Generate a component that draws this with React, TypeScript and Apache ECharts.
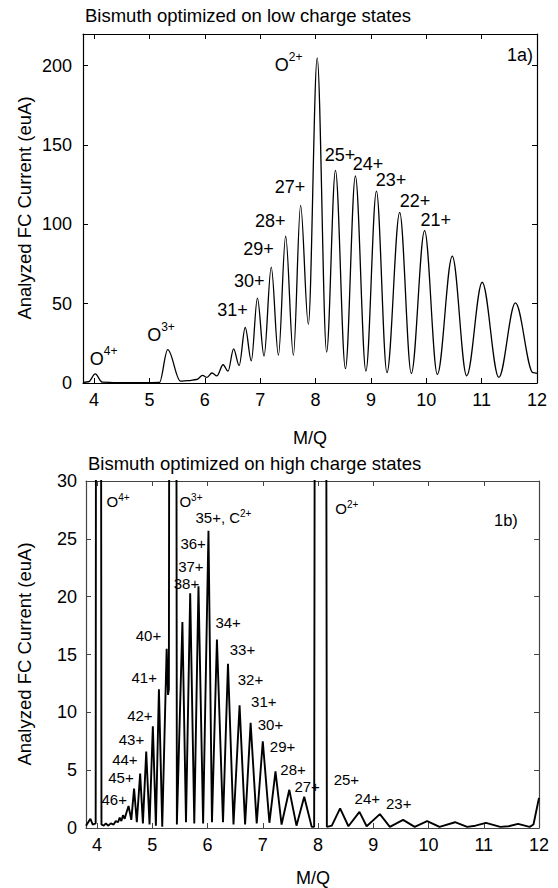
import React, { useEffect, useRef } from 'react';
import * as echarts from 'echarts';

// ---- Data ----
const xTicks = [4, 5, 6, 7, 8, 9, 10, 11, 12];
const topYTicks = [0, 50, 100, 150, 200];
const bottomYTicks = [0, 5, 10, 15, 20, 25, 30];

// 1a) low charge states: peak / valley samples (M/Q, current euA)
const topMQ = [
  3.8, 3.9, 4.02, 4.15, 4.4, 4.9, 5.18, 5.33, 5.56, 5.7, 5.85, 5.96, 6.04, 6.13, 6.22,
  6.33, 6.42, 6.52, 6.62, 6.73, 6.84, 6.95, 7.07, 7.2, 7.33, 7.46, 7.6, 7.73, 7.87,
  8.03, 8.2, 8.36, 8.54, 8.72, 8.91, 9.1, 9.29, 9.52, 9.73, 9.97, 10.2, 10.47, 10.73,
  11.01, 11.31, 11.61, 11.93, 12.0,
];
const topCurrent = [
  0.3, 0.8, 5.7, 0.5, 0.2, 0.2, 0.3, 21, 1.2, 1.5, 2.2, 4.8, 3.5, 6.3, 4.5,
  11.5, 7.5, 21.5, 11, 35, 14, 53.5, 17, 73, 17.5, 92.5, 17.5, 112, 37,
  205, 19.5, 134, 9, 130.5, 7.5, 121, 6.5, 107.5, 6, 96, 5.5, 80, 4.5,
  63.5, 3.5, 50.5, 6.5, 6,
];

// 1b) high charge states
const bottomMQ = [
  3.8, 3.84, 3.88, 3.92, 3.975, 4.02, 4.08, 4.12, 4.16, 4.2, 4.25, 4.3, 4.34, 4.38, 4.41,
  4.44, 4.47, 4.5, 4.53, 4.57, 4.62, 4.67, 4.72, 4.78, 4.83, 4.89, 4.95, 5.01, 5.065,
  5.12, 5.18, 5.26, 5.285, 5.3, 5.375, 5.445, 5.545, 5.61, 5.686, 5.76, 5.836, 5.92,
  6.017, 6.08, 6.17, 6.28, 6.37, 6.47, 6.58, 6.68, 6.78, 6.89, 7.0, 7.12, 7.23, 7.34,
  7.48, 7.61, 7.75, 7.885, 7.93, 8.04, 8.16, 8.25, 8.4, 8.55, 8.75, 8.88, 9.12, 9.3,
  9.54, 9.75, 9.975, 10.2, 10.48, 10.7, 10.85, 11.04, 11.3, 11.45, 11.62, 11.83, 11.9, 12.0,
];
const bottomCurrent = [
  0.2, 0.5, 0.8, 0.3, 0.4, 300, 0.3, 0.2, 0.4, 0.2, 0.4, 0.3, 0.6, 0.5, 0.9,
  0.6, 1.1, 0.8, 1.3, 1.9, 0.7, 3.4, 0.5, 4.7, 0.4, 6.6, 0.3, 8.8, 0.2,
  12.0, 0.1, 15.5, 11.5, 12, 300, 0.3, 17.8, 0.5, 20.3, 0.4, 20.9, 0.4,
  25.7, 0.5, 16.3, 0.5, 14.2, 0.3, 10.6, 0.3, 9.1, 0.4, 7.5, 0.45, 4.9, 0.3,
  3.3, 0.2, 2.7, 0.1, 0.1, 400, 0.1, 0.2, 1.7, 0.15, 1.4, 0.15, 1.2, 0.1,
  0.7, 0.1, 0.6, 0.1, 0.5, 0.1, 0.2, 0.45, 0.1, 0.15, 0.35, 0.1, 0.3, 2.6,
];

// Annotations: [label, M/Q, current] (label anchor = left edge, vertical middle)
const topLabels: [string, number, number][] = [
  ['{o|O}{s|4+}', 3.914, 15.1],
  ['{o|O}{s|3+}', 4.95, 30.3],
  ['31+', 6.215, 46.0],
  ['30+', 6.518, 64.0],
  ['29+', 6.684, 84.5],
  ['28+', 6.897, 102.4],
  ['27+', 7.255, 123.7],
  ['{o|O}{s|2+}', 7.255, 200.5],
  ['25+', 8.156, 143.7],
  ['24+', 8.664, 138.1],
  ['23+', 9.079, 128.0],
  ['22+', 9.512, 114.7],
  ['21+', 9.886, 102.7],
];
const bottomLabels: [string, number, number][] = [
  ['{o|O}{s|4+}', 4.162, 28.2],
  ['{o|O}{s|3+}', 5.482, 28.2],
  ['{o|O}{s|2+}', 8.304, 27.6],
  ['{o|35+, C}{s|2+}', 5.772, 26.86],
  ['36+', 5.5, 24.61],
  ['37+', 5.459, 22.65],
  ['38+', 5.379, 21.16],
  ['34+', 6.134, 17.75],
  ['40+', 4.692, 16.62],
  ['33+', 6.392, 15.39],
  ['41+', 4.614, 13.03],
  ['32+', 6.537, 12.86],
  ['31+', 6.779, 10.92],
  ['42+', 4.536, 9.71],
  ['30+', 6.899, 8.99],
  ['43+', 4.384, 7.67],
  ['44+', 4.265, 5.88],
  ['45+', 4.193, 4.35],
  ['46+', 4.071, 2.48],
  ['29+', 7.119, 7.03],
  ['28+', 7.309, 5.1],
  ['27+', 7.563, 3.57],
  ['25+', 8.274, 4.15],
  ['24+', 8.653, 2.51],
  ['23+', 9.221, 2.14],
];

const FONT = "'Liberation Sans', Arial, sans-serif";

function xAxisDef(gridIndex: number, position: 'top' | 'bottom', color: string) {
  const labels = position === 'bottom';
  return {
    type: 'value',
    gridIndex,
    position,
    min: 3.8,
    max: 12,
    axisLine: { show: true, onZero: false, lineStyle: { color, width: 1.2 } },
    axisTick: { show: true, inside: true, length: 5, customValues: xTicks, lineStyle: { color, width: 1 } },
    axisLabel: {
      show: labels,
      customValues: xTicks,
      fontSize: 18,
      fontFamily: FONT,
      color: '#000',
      margin: 8,
    },
    splitLine: { show: false },
  };
}

function yAxisDef(gridIndex: number, position: 'left' | 'right', max: number, ticks: number[], color: string, margin: number) {
  const labels = position === 'left';
  return {
    type: 'value',
    gridIndex,
    position,
    min: 0,
    max,
    interval: ticks[1] - ticks[0],
    axisLine: { show: true, onZero: false, lineStyle: { color, width: 1.2 } },
    axisTick: { show: true, inside: true, length: 5, customValues: ticks, lineStyle: { color, width: 1 } },
    axisLabel: {
      show: labels,
      customValues: ticks,
      fontSize: 18,
      fontFamily: FONT,
      color: '#000',
      margin,
    },
    splitLine: { show: false },
  };
}

function labelSeries(xi: number, yi: number, list: [string, number, number][], fs: number, lh: number, sfs: number, slh: number) {
  return {
    type: 'scatter',
    xAxisIndex: xi,
    yAxisIndex: yi,
    symbol: 'circle',
    symbolSize: 1,
    silent: true,
    itemStyle: { color: 'rgba(0,0,0,0)', opacity: 1 },
    data: list.map(([t, x, y]) => ({ value: [x, y], name: t })),
    label: {
      show: true,
      position: 'right',
      distance: 0,
      opacity: 1,
      formatter: (p: any) => p.name,
      color: '#000',
      fontSize: fs,
      fontFamily: FONT,
      rich: {
        o: { fontSize: fs, lineHeight: lh, fontFamily: FONT, color: '#000' },
        s: { fontSize: sfs, lineHeight: slh, verticalAlign: 'top', fontFamily: FONT, color: '#000' },
      },
    },
  };
}

function textEl(text: string, x: number, y: number, fs: number, align: string, rotation = 0) {
  return {
    type: 'text',
    x,
    y,
    rotation,
    silent: true,
    style: {
      text,
      fontSize: fs,
      fontFamily: FONT,
      fill: '#000',
      align,
      verticalAlign: 'middle',
    },
  };
}

export default function App() {
  const ref = useRef<HTMLDivElement>(null);

  useEffect(() => {
    if (!ref.current) return;
    const chart = echarts.init(ref.current, undefined, { renderer: 'svg' });
    const topColor = '#000';
    const botColor = '#444';
    const option: any = {
      animation: false,
      grid: [
        { left: 83, top: 34, width: 454, height: 349 },
        { left: 86, top: 481, width: 453, height: 347 },
      ],
      xAxis: [
        xAxisDef(0, 'bottom', topColor),
        xAxisDef(0, 'top', topColor),
        xAxisDef(1, 'bottom', botColor),
        xAxisDef(1, 'top', botColor),
      ],
      yAxis: [
        yAxisDef(0, 'left', 220, topYTicks, topColor, 11),
        yAxisDef(0, 'right', 220, topYTicks, topColor, 8),
        yAxisDef(1, 'left', 30, bottomYTicks, botColor, 9),
        yAxisDef(1, 'right', 30, bottomYTicks, botColor, 8),
      ],
      series: [
        {
          type: 'line',
          xAxisIndex: 0,
          yAxisIndex: 0,
          data: topMQ.map((x, i) => [x, topCurrent[i]]),
          showSymbol: false,
          symbol: 'none',
          smooth: 0.35,
          smoothMonotone: 'x',
          clip: true,
          lineStyle: { color: '#000', width: 1.3 },
        },
        {
          type: 'line',
          xAxisIndex: 2,
          yAxisIndex: 2,
          data: bottomMQ.map((x, i) => [x, bottomCurrent[i]]),
          showSymbol: false,
          symbol: 'none',
          clip: true,
          lineStyle: { color: '#000', width: 1.9 },
        },
        labelSeries(0, 0, topLabels, 18, 28, 12, 12),
        labelSeries(2, 2, bottomLabels, 15, 18, 10, 10),
      ],
      graphic: [
        textEl('Bismuth optimized on low charge states', 85, 15, 18.5, 'left'),
        textEl('Bismuth optimized on high charge states', 88, 463, 18.5, 'left'),
        textEl('Analyzed FC Current (euA)', 24, 208, 18.5, 'center', Math.PI / 2),
        textEl('Analyzed FC Current (euA)', 24, 654, 18.5, 'center', Math.PI / 2),
        textEl('M/Q', 310, 438, 18, 'center'),
        textEl('M/Q', 313, 878, 18, 'center'),
        textEl('1a)', 507, 55, 18, 'left'),
        textEl('1b)', 494, 520, 16.5, 'left'),
      ],
    };
    chart.setOption(option);
    return () => chart.dispose();
  }, []);

  return (
    <div
      ref={ref}
      style={{ position: 'absolute', left: 0, top: 0, width: 558, height: 888 }}
    />
  );
}
